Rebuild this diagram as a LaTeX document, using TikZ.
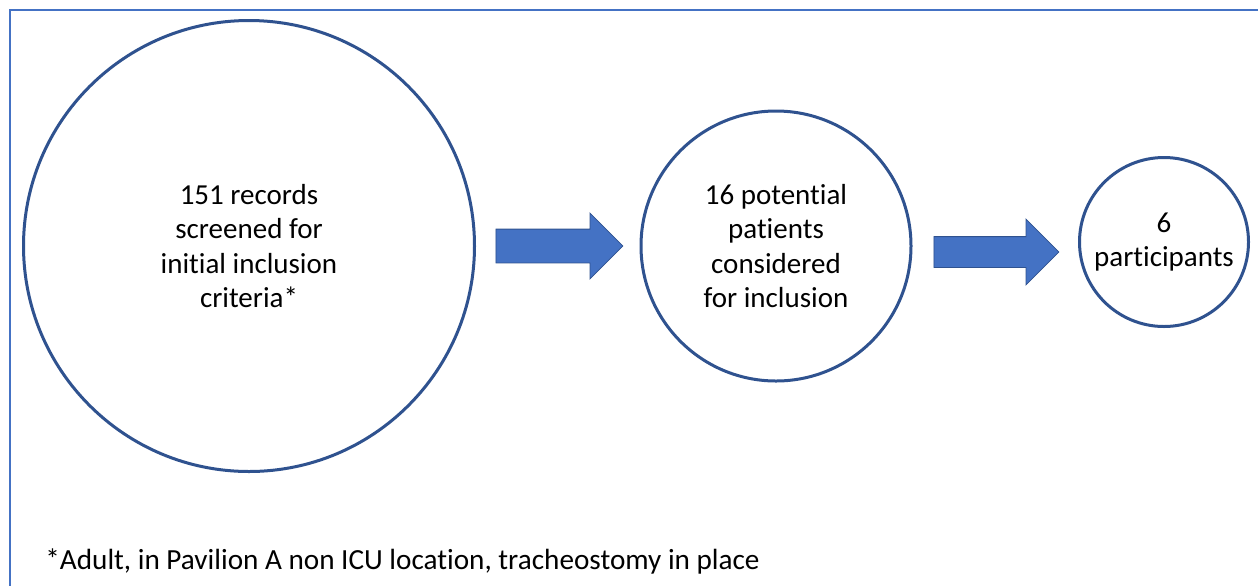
\documentclass[tikz,border=0pt]{standalone}
\usepackage{fontspec}
\setmainfont{Carlito}[Ligatures=NoCommon]
\usetikzlibrary{shapes.arrows, calc}

\definecolor{ringblue}{HTML}{2F528F}
\definecolor{fillblue}{HTML}{4472C4}

\begin{document}
\begin{tikzpicture}[
  x=0.5pt, y=-0.5pt,
  stage/.style={draw=ringblue, line width=1.5pt, circle, fill=white, align=center, inner sep=0pt, font=\fontsize{14.5pt}{17.3pt}\selectfont},
  blockarrow/.style={single arrow, draw=ringblue, fill=fillblue, line width=0.4pt, inner xsep=0pt, anchor=tail},
  note/.style={font=\fontsize{14.6pt}{17.3pt}\selectfont, inner sep=0pt}
]
\clip (0,0) rectangle (1258,585);
\draw[fillblue, line width=1pt] (10,10) rectangle (1290,610);

\node[stage, minimum size=225.5pt] (rec)  at (249,246)  {151 records\\screened for\\initial inclusion\\criteria*};
\node[stage, minimum size=135pt]   (pot)  at (776,246)  {16 potential\\patients\\considered\\for inclusion};
\node[stage, minimum size=84.5pt]  (part) at (1164,242) {6\\participants};

\node[blockarrow, inner ysep=8.25pt, single arrow head extend=8pt, minimum height=63.5pt] (arrA) at ($(rec.east)+(19.5,0)$) {};
\node[blockarrow, inner ysep=7.5pt, single arrow head extend=8.75pt, minimum height=62.5pt] (arrB) at ($(pot.east)+(21,6)$) {};

\node[note, anchor=base west] (fn) at (45,569) {*Adult, in Pavilion A non ICU location, tracheostomy in place};
\end{tikzpicture}
\end{document}
